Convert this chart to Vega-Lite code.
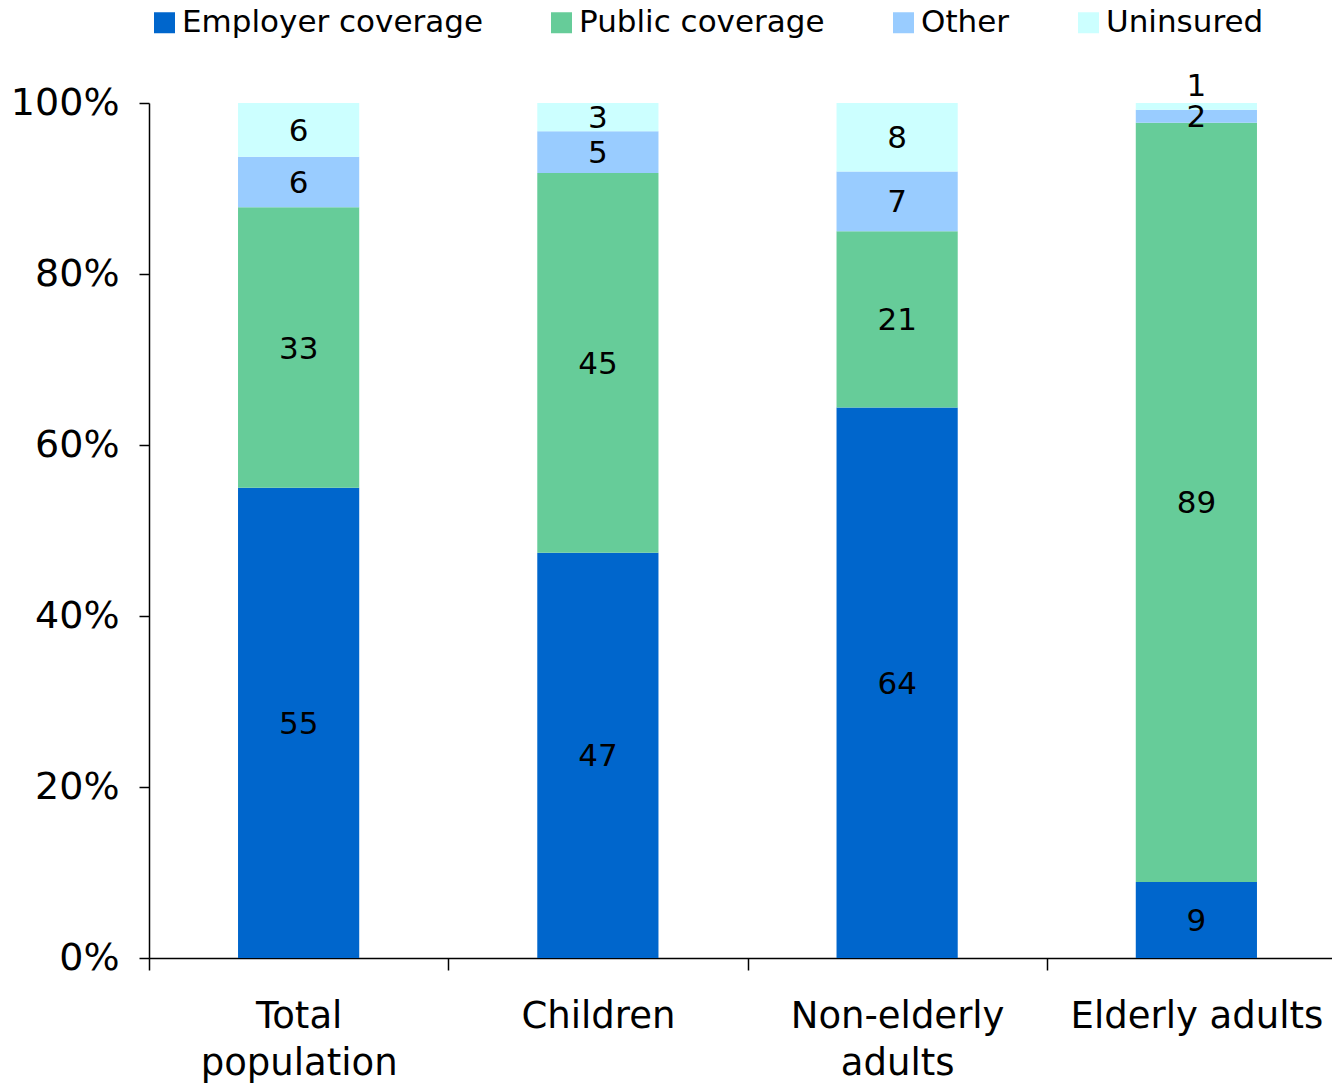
{
  "$schema": "https://vega.github.io/schema/vega-lite/v6.json",
  "width": 1183,
  "height": 855,
  "autosize": "none",
  "padding": {"left": 149, "top": 103, "right": 0, "bottom": 126},
  "background": "white",
  "config": {
    "view": {"stroke": null},
    "font": "DejaVu Sans",
    "axis": {"labelColor": "black", "domainColor": "black", "tickColor": "black", "domainWidth": 1.5, "tickWidth": 1.5, "grid": false, "title": null, "labelFont": "DejaVu Sans", "labelLimit": 0},
    "legend": {"labelFont": "DejaVu Sans", "labelLimit": 0, "padding": 0}
  },
  "data": {
    "values": [
      {"group": "Total population", "type": "Employer coverage", "order": 1, "value": 55.0, "label": "55"},
      {"group": "Total population", "type": "Public coverage", "order": 2, "value": 32.8, "label": "33"},
      {"group": "Total population", "type": "Other", "order": 3, "value": 5.9, "label": "6"},
      {"group": "Total population", "type": "Uninsured", "order": 4, "value": 6.3, "label": "6"},
      {"group": "Children", "type": "Employer coverage", "order": 1, "value": 47.4, "label": "47"},
      {"group": "Children", "type": "Public coverage", "order": 2, "value": 44.4, "label": "45"},
      {"group": "Children", "type": "Other", "order": 3, "value": 4.9, "label": "5"},
      {"group": "Children", "type": "Uninsured", "order": 4, "value": 3.3, "label": "3"},
      {"group": "Non-elderly adults", "type": "Employer coverage", "order": 1, "value": 64.4, "label": "64"},
      {"group": "Non-elderly adults", "type": "Public coverage", "order": 2, "value": 20.6, "label": "21"},
      {"group": "Non-elderly adults", "type": "Other", "order": 3, "value": 7.0, "label": "7"},
      {"group": "Non-elderly adults", "type": "Uninsured", "order": 4, "value": 8.0, "label": "8"},
      {"group": "Elderly adults", "type": "Employer coverage", "order": 1, "value": 8.9, "label": "9"},
      {"group": "Elderly adults", "type": "Public coverage", "order": 2, "value": 88.8, "label": "89"},
      {"group": "Elderly adults", "type": "Other", "order": 3, "value": 1.5, "label": "2"},
      {"group": "Elderly adults", "type": "Uninsured", "order": 4, "value": 0.8, "label": "1"}
    ]
  },
  "transform": [
    {"stack": "value", "groupby": ["group"], "sort": [{"field": "order", "order": "ascending"}], "offset": "normalize", "as": ["y0", "y1"]},
    {"calculate": "(datum.y0 + datum.y1) / 2", "as": "ymid"}
  ],
  "encoding": {
    "x": {
      "field": "group", "type": "nominal",
      "sort": ["Total population", "Children", "Non-elderly adults", "Elderly adults"],
      "scale": {"paddingInner": 0, "paddingOuter": 0, "range": [0, 1197]},
      "axis": {
        "labelAngle": 0, "labelFontSize": 37, "labelPadding": 28, "labelLineHeight": 47,
        "tickBand": "extent", "tickSize": 12, "labelBaseline": "top",
        "labelExpr": "datum.label == 'Total population' ? ['Total', 'population'] : datum.label == 'Non-elderly adults' ? ['Non-elderly', 'adults'] : datum.label"
      }
    }
  },
  "layer": [
    {
      "mark": {"type": "bar", "width": {"band": 0.405}},
      "encoding": {
        "y": {"field": "y0", "type": "quantitative", "scale": {"domain": [0, 1]},
          "axis": {"values": [0, 0.2, 0.4, 0.6, 0.8, 1], "format": ".0%", "labelFontSize": 38, "tickSize": 10, "labelPadding": 20}},
        "y2": {"field": "y1"},
        "color": {
          "field": "type", "type": "nominal",
          "sort": ["Employer coverage", "Public coverage", "Other", "Uninsured"],
          "scale": {"domain": ["Employer coverage", "Public coverage", "Other", "Uninsured"], "range": ["#0066CC", "#66CC99", "#99CCFF", "#CCFFFF"]},
          "legend": {
            "title": null, "orient": "none", "direction": "horizontal",
            "legendX": 0, "legendY": -96,
            "symbolType": "square", "symbolSize": 441, "symbolStrokeWidth": 0,
            "labelFontSize": 31, "labelColor": "black", "columnPadding": 63, "labelOffset": 2
          }
        }
      }
    },
    {
      "transform": [{"filter": "!(datum.group == 'Elderly adults' && datum.type == 'Uninsured')"}],
      "mark": {"type": "text", "fontSize": 31, "color": "black", "baseline": "middle", "dy": 2},
      "encoding": {
        "y": {"field": "ymid", "type": "quantitative"},
        "text": {"field": "label"}
      }
    },
    {
      "transform": [{"filter": "datum.group == 'Elderly adults' && datum.type == 'Uninsured'"}],
      "mark": {"type": "text", "fontSize": 31, "color": "black", "baseline": "middle", "dy": -19},
      "encoding": {
        "y": {"field": "ymid", "type": "quantitative"},
        "text": {"field": "label"}
      }
    }
  ]
}
